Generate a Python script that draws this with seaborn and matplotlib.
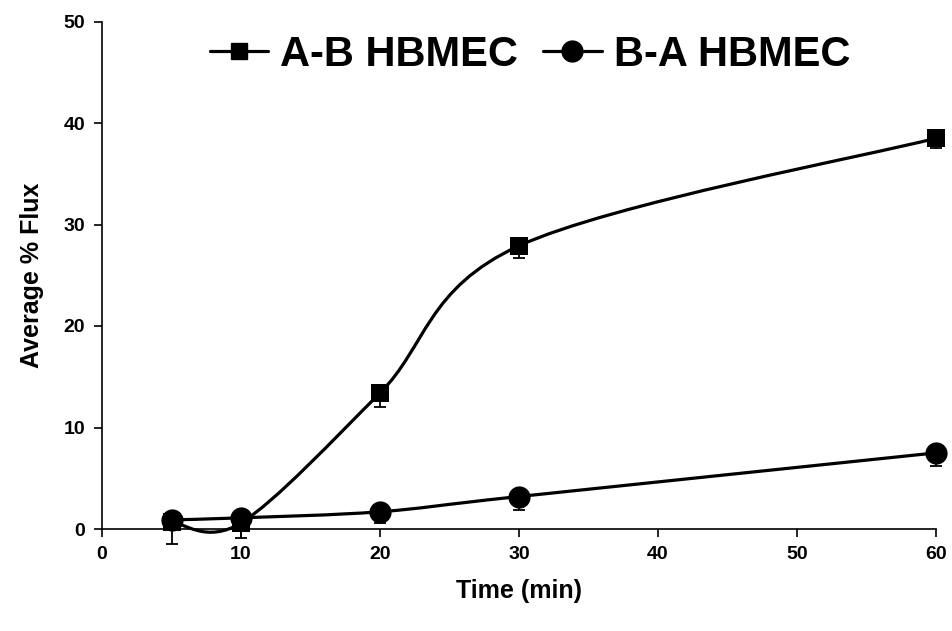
import numpy as np
import pandas as pd
import matplotlib
matplotlib.use("Agg")
import matplotlib.pyplot as plt
import seaborn as sns
from matplotlib.path import Path
from matplotlib.patches import PathPatch
from matplotlib.lines import Line2D

# values
time_min = [5, 10, 20, 30, 60]
ab_flux = [0.7, 0.6, 13.4, 27.9, 38.5]
ab_err = [2.2, 1.5, 1.4, 1.2, 1.0]
ba_flux = [0.9, 1.1, 1.7, 3.2, 7.5]
ba_err = [1.0, 1.0, 1.1, 1.3, 1.3]
series_names = ["A-B HBMEC", "B-A HBMEC"]

df = pd.concat([
    pd.DataFrame({"time": time_min, "flux": ab_flux, "err": ab_err, "series": series_names[0]}),
    pd.DataFrame({"time": time_min, "flux": ba_flux, "err": ba_err, "series": series_names[1]}),
])

sns.set_style("ticks")
plt.rcParams["font.family"] = ["Liberation Sans", "DejaVu Sans"]
plt.rcParams["font.weight"] = "bold"
for key in ["text.color", "axes.labelcolor", "xtick.color", "ytick.color", "axes.edgecolor"]:
    plt.rcParams[key] = "black"


def smooth_path(x, y):
    # excel-like smoothed line: cubic bezier through the points
    pts = np.column_stack([x, y]).astype(float)
    n = len(pts)
    verts = [pts[0]]
    codes = [Path.MOVETO]
    for i in range(n - 1):
        p0 = pts[max(i - 1, 0)]
        p1 = pts[i]
        p2 = pts[i + 1]
        p3 = pts[min(i + 2, n - 1)]
        verts += [p1 + (p2 - p0) / 6, p2 - (p3 - p1) / 6, p2]
        codes += [Path.CURVE4] * 3
    return Path(verts, codes)


fig = plt.figure(figsize=(9.53, 6.31), dpi=100)
ax = fig.add_axes([102 / 953, 1 - 529 / 631, (936 - 102) / 953, (529 - 21.5) / 631])

markers = {series_names[0]: ("s", 13), series_names[1]: ("o", 16)}
for name, sub in df.groupby("series"):
    patch = PathPatch(smooth_path(sub["time"], sub["flux"]), facecolor="none",
                      edgecolor="black", lw=2.3, clip_on=False, zorder=2)
    ax.add_patch(patch)
    ax.errorbar(sub["time"], sub["flux"], yerr=[sub["err"], np.zeros(len(sub))],
                fmt="none", ecolor="black", elinewidth=1.3, capsize=4.5,
                capthick=1.3, clip_on=False, zorder=3)
    m, ms = markers[name]
    sns.scatterplot(data=sub, x="time", y="flux", marker=m, s=ms ** 2,
                    color="black", edgecolor="black", linewidth=0, ax=ax,
                    clip_on=False, zorder=4, legend=False)

ax.set_xlim(0, 60)
ax.set_ylim(0, 50)
ax.set_xticks(range(0, 61, 10))
ax.set_yticks(range(0, 51, 10))
sns.despine(ax=ax)
for side in ["left", "bottom"]:
    ax.spines[side].set_linewidth(1.2)
ax.tick_params(axis="both", length=6, width=1.2, labelsize=14, pad=6, color="black")
for lab in ax.get_xticklabels() + ax.get_yticklabels():
    lab.set_fontweight("bold")
ax.set_xlabel("Time (min)", fontsize=18, fontweight="bold", labelpad=12)
ax.set_ylabel("Average % Flux", fontsize=18, fontweight="bold", labelpad=14)

handles = [Line2D([], [], color="black", lw=2.3, marker=markers[n][0],
                  markersize=markers[n][1] - 1) for n in series_names]
fig.legend(handles, series_names, loc="center", ncol=2, frameon=False,
           bbox_to_anchor=(530 / 953, 1 - 55 / 631),
           prop={"size": 30, "weight": "bold"}, handlelength=1.4,
           handletextpad=0.3, columnspacing=0.6)

fig.savefig("out.png", dpi=100)
